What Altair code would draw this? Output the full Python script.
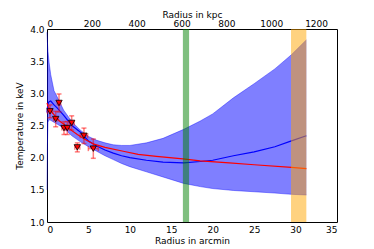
import altair as alt
import pandas as pd

# blue model band (arcmin, keV)
band_x = [0, 0.05, 0.12, 0.25, 0.45, 0.85, 1.25, 2.0, 3.0, 4.0, 5.0, 6.0, 7.0, 8.0, 9.0, 10, 12, 14, 16.5, 18.5, 20, 22.5, 25, 27.5, 29.5, 31.3]
band_hi = [3.95, 3.80, 3.65, 3.48, 3.29, 3.04, 2.94, 2.74, 2.56, 2.43, 2.33, 2.27, 2.23, 2.20, 2.19, 2.19, 2.23, 2.30, 2.44, 2.57, 2.68, 2.93, 3.15, 3.38, 3.60, 3.83]
band_lo = [1.50, 2.20, 2.55, 2.59, 2.58, 2.55, 2.52, 2.46, 2.34, 2.25, 2.17, 2.10, 2.03, 1.97, 1.91, 1.86, 1.78, 1.70, 1.60, 1.55, 1.52, 1.49, 1.47, 1.45, 1.43, 1.42]
band_mid = [2.70, 2.78, 2.84, 2.87, 2.88, 2.82, 2.77, 2.66, 2.50, 2.40, 2.26, 2.18, 2.12, 2.07, 2.03, 2.00, 1.96, 1.93, 1.92, 1.94, 1.96, 2.03, 2.09, 2.17, 2.26, 2.34]

# red model line
red_x = [0, 0.12, 0.5, 0.84, 1.5, 2.05, 3, 3.66, 4.5, 5.67, 7, 9.2, 11, 13.2, 16.4, 18.5, 22, 25, 29.5, 31.3]
red_y = [2.85, 2.80, 2.72, 2.67, 2.57, 2.52, 2.42, 2.36, 2.29, 2.21, 2.16, 2.10, 2.05, 2.02, 1.98, 1.95, 1.92, 1.89, 1.85, 1.83]

# measured points
pt_x = [0.36, 1.05, 1.45, 2.05, 2.45, 2.98, 3.66, 4.46, 5.59]
pt_y = [2.72, 2.60, 2.85, 2.46, 2.46, 2.54, 2.16, 2.34, 2.14]
pt_yerr = [0.10, 0.12, 0.14, 0.10, 0.10, 0.11, 0.07, 0.12, 0.15]
pt_xerr = [0.30, 0.25, 0.20, 0.25, 0.25, 0.30, 0.30, 0.45, 0.60]

# vertical shaded regions
reg_x1 = [16.4, 29.45]
reg_x2 = [17.15, 31.3]
reg_col = ["green", "orange"]

kpc_per_arcmin = 36.95
x_max = 35

band = pd.DataFrame({"x": band_x, "hi": band_hi, "lo": band_lo, "mid": band_mid})
red = pd.DataFrame({"x": red_x, "y": red_y})
pts = pd.DataFrame({"x": pt_x, "y": pt_y})
pts["ylo"] = [a - b for a, b in zip(pt_y, pt_yerr)]
pts["yhi"] = [a + b for a, b in zip(pt_y, pt_yerr)]
pts["xlo"] = [a - b for a, b in zip(pt_x, pt_xerr)]
pts["xhi"] = [a + b for a, b in zip(pt_x, pt_xerr)]
regs = pd.DataFrame({"x1": reg_x1, "x2": reg_x2, "c": reg_col, "y1": [1.0, 1.0], "y2": [4.0, 4.0]})

font = "DejaVu Sans"
xs = alt.Scale(domain=[0, x_max], nice=False)
ys = alt.Scale(domain=[1.0, 4.0], nice=False)

xax = alt.Axis(title="Radius in arcmin", values=[0, 5, 10, 15, 20, 25, 30, 35], format="d",
               grid=False, ticks=False, labelPadding=3, titlePadding=2, domain=False, labelOverlap=False)
yax = alt.Axis(title="Temperature in keV", values=[1.0, 1.5, 2.0, 2.5, 3.0, 3.5, 4.0], format=".1f",
               grid=False, ticks=False, labelPadding=3, titlePadding=5, domain=False, labelOverlap=False)


def X(f):
    return alt.X(f, scale=xs, axis=xax)


def Y(f):
    return alt.Y(f, scale=ys, axis=yax)


band_l = alt.Chart(band).mark_area(color="#0000ff", opacity=0.5, line=False).encode(
    x=X("x:Q"), y=Y("hi:Q"), y2="lo:Q")
band_hi_l = alt.Chart(band).mark_line(color="#0000ff", opacity=0.5, strokeWidth=0.8).encode(x=X("x:Q"), y=Y("hi:Q"))
band_lo_l = alt.Chart(band).mark_line(color="#0000ff", opacity=0.5, strokeWidth=0.8).encode(x=X("x:Q"), y=Y("lo:Q"))
mid_l = alt.Chart(band).mark_line(color="#0000ff", strokeWidth=1.2).encode(x=X("x:Q"), y=Y("mid:Q"))
red_l = alt.Chart(red).mark_line(color="#ff0000", strokeWidth=1.2).encode(x=X("x:Q"), y=Y("y:Q"))

ev = alt.Chart(pts).mark_rule(color="#ff0000", opacity=0.5, strokeWidth=1.5).encode(x=X("x:Q"), y=Y("ylo:Q"), y2="yhi:Q")
eh = alt.Chart(pts).mark_rule(color="#ff0000", opacity=0.5, strokeWidth=1.5).encode(x=X("xlo:Q"), x2="xhi:Q", y=Y("y:Q"))
cap1 = alt.Chart(pts).mark_tick(color="#ff0000", opacity=0.5, orient="horizontal", size=5, thickness=1.5).encode(x=X("x:Q"), y=Y("ylo:Q"))
cap2 = alt.Chart(pts).mark_tick(color="#ff0000", opacity=0.5, orient="horizontal", size=5, thickness=1.5).encode(x=X("x:Q"), y=Y("yhi:Q"))
capx1 = alt.Chart(pts).mark_tick(color="#ff0000", opacity=0.5, orient="vertical", size=5, thickness=1.5).encode(x=X("xlo:Q"), y=Y("y:Q"))
capx2 = alt.Chart(pts).mark_tick(color="#ff0000", opacity=0.5, orient="vertical", size=5, thickness=1.5).encode(x=X("xhi:Q"), y=Y("y:Q"))
mk = alt.Chart(pts).mark_point(shape="triangle-down", filled=True, color="#ff0000", stroke="black",
                               strokeWidth=0.8, size=40, opacity=1).encode(x=X("x:Q"), y=Y("y:Q"))

rects = alt.Chart(regs).mark_rect(opacity=0.5).encode(
    x=X("x1:Q"), x2="x2:Q", y=Y("y1:Q"), y2="y2:Q",
    color=alt.Color("c:N", scale=alt.Scale(domain=["green", "orange"], range=["#008000", "#ffa500"]), legend=None))

main = alt.layer(band_l, band_hi_l, band_lo_l, mid_l, red_l, ev, eh, cap1, cap2, capx1, capx2, mk, rects)

top = alt.Chart(pd.DataFrame({"k": [0.0]})).mark_point(opacity=0).encode(
    x=alt.X("k:Q", scale=alt.Scale(domain=[0, x_max * kpc_per_arcmin], nice=False),
            axis=alt.Axis(orient="top", title="Radius in kpc", values=[0, 200, 400, 600, 800, 1000, 1200],
                          format="d", grid=False, ticks=False, labelPadding=1, titlePadding=0, domain=False,
                          labelOverlap=False)),
    y=alt.value(0))

chart = alt.layer(main, top).resolve_scale(x="independent").properties(
    width=290, height=193,
    autosize=alt.AutoSizeParams(type="none"),
    padding={"left": 39, "top": 21, "right": 29, "bottom": 27},
).configure_view(stroke="black", strokeWidth=1).configure_axis(
    labelFont=font, titleFont=font, labelFontSize=9, titleFontSize=9,
    labelColor="black", titleColor="black", titleFontWeight="normal")

chart.save("out.html", embed_options={"renderer": "svg", "actions": False})
